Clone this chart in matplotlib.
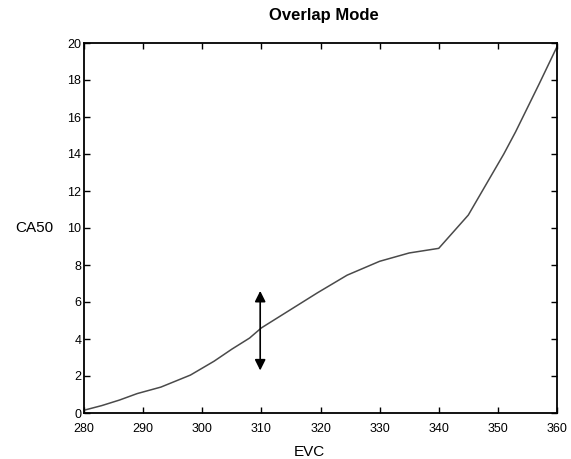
import matplotlib
matplotlib.use("Agg")
import matplotlib.pyplot as plt

plt.rcParams['font.family'] = ['Liberation Sans', 'DejaVu Sans']

evc = [280, 283, 286, 289, 293, 298, 302, 305, 308, 310, 315, 319.5, 324.5,
       330, 335, 340, 342.5, 345, 347, 349, 351, 353, 355, 357, 358.5, 360]
ca50 = [0.15, 0.4, 0.7, 1.05, 1.4, 2.05, 2.8, 3.45, 4.05, 4.6, 5.6, 6.5, 7.45,
        8.2, 8.65, 8.9, 9.8, 10.7, 11.8, 12.9, 14.0, 15.2, 16.5, 17.8, 18.8, 19.8]

arrow_x = 309.8
arrow_low, arrow_high = 2.3, 6.6

xticks = list(range(280, 361, 10))
yticks = list(range(0, 21, 2))

fig = plt.figure(figsize=(5.71, 4.59), dpi=100)
ax = fig.add_axes([84/571, 1 - 413/459, (557-84)/571, (413-43)/459])

ax.plot(evc, ca50, color='#4a4a4a', lw=1.1)
ax.annotate('', xy=(arrow_x, arrow_high), xytext=(arrow_x, arrow_low),
            arrowprops=dict(arrowstyle='<|-|>', color='black', lw=1.2,
                            mutation_scale=16, shrinkA=0, shrinkB=0))

ax.set_xlim(280, 360)
ax.set_ylim(0, 20)
ax.set_xticks(xticks)
ax.set_yticks(yticks)
ax.tick_params(direction='in', top=True, right=True, length=4, width=1,
               labelsize=9)
ax.tick_params(axis='x', pad=7)
ax.tick_params(axis='y', pad=2)
for s in ax.spines.values():
    s.set_linewidth(1.3)

fig.text(323.5/571, 1 - 20/459, 'Overlap Mode', fontsize=12, fontweight='bold',
         ha='center', va='baseline')
ax.set_xlabel('EVC', fontsize=11)
ax.xaxis.set_label_coords((309-84)/473, (413-445)/370)
ax.set_ylabel('CA50', fontsize=11, rotation=0, ha='center', va='center')
ax.yaxis.set_label_coords((34-84)/473, (413-228)/370)

fig.savefig('out.png', dpi=100)
